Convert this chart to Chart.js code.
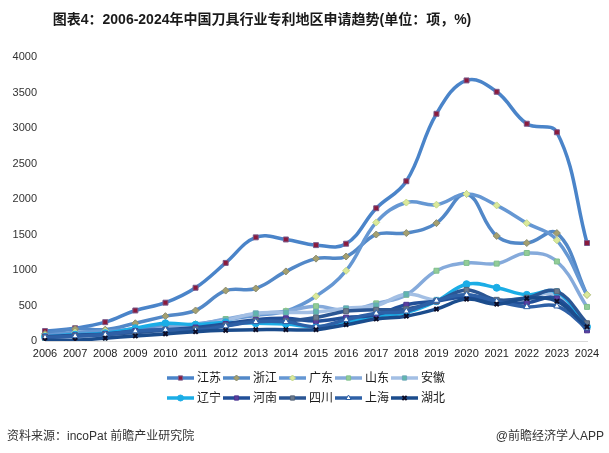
<!DOCTYPE html>
<html>
<head>
<meta charset="utf-8">
<script src="https://cdn.jsdelivr.net/npm/chart.js@4/dist/chart.umd.min.js"></script>
<style>
  html,body{margin:0;padding:0;background:#fff;}
  #wrap{width:609px;height:453px;position:relative;}
</style>
</head>
<body>
<div id="wrap"><canvas id="c" width="609" height="453"></canvas></div>
<script>
const years = ['2006','2007','2008','2009','2010','2011','2012','2013','2014','2015','2016','2017','2018','2019','2020','2021','2022','2023','2024'];
const yTicks = [0, 500, 1000, 1500, 2000, 2500, 3000, 3500, 4000];

const jiangsu   = [140,180,265,430,540,750,1100,1460,1430,1350,1370,1870,2250,3200,3670,3510,3060,2940,1380];
const zhejiang  = [100,170,160,250,350,430,710,740,980,1160,1190,1500,1520,1660,2070,1480,1380,1520,650];
const guangdong = [80,120,140,170,210,240,300,360,420,630,990,1670,1950,1920,2070,1910,1660,1420,650];
const shandong  = [20,30,60,100,190,230,310,380,420,490,430,530,650,990,1100,1090,1240,1120,480];
const anhui     = [20,20,50,90,150,200,290,390,400,410,460,500,660,580,650,560,610,650,240];
const liaoning  = [60,90,110,180,250,230,260,250,240,200,260,350,400,560,800,750,650,690,200];
const henan     = [60,80,100,140,160,190,240,300,320,280,330,370,510,560,620,540,540,600,150];
const sichuan   = [50,70,90,120,150,170,220,280,280,330,420,440,450,560,720,580,610,700,250];
const shanghai  = [50,70,90,140,160,150,210,270,270,200,300,390,420,570,650,560,480,490,180];
const hubei     = [10,10,40,70,100,130,150,160,160,160,230,310,350,450,590,520,600,560,200];

const seriesNames = ['江苏','浙江','广东','山东','安徽','辽宁','河南','四川','上海','湖北'];
const seriesData  = [jiangsu, zhejiang, guangdong, shandong, anhui, liaoning, henan, sichuan, shanghai, hubei];
const lineColors  = ['#4a84c9','#5288c8','#6597d3','#85aadb','#a3bfe4','#1badE6','#214f98','#2b5694','#2e60a6','#1b4c8c'];
const markerFill  = ['#8b1a3c','#a4a070','#dbe99a','#93cc97','#5fb7ac','#1badE6','#5a3f9e','#6b7a8d','#ffffff','#0d0d26'];
const markerLine  = ['#7a5a8a','#8c8c70','#c6d98a','#7fbf8c','#6aa7b8','#1badE6','#4a3590','#566478','#2e60a6','#0d0d26'];
const markerStyle = ['rect','rectRot','rectRot','rect','rect','circle','rect','rect','triangle','crossRot'];

const FONT = '"Liberation Sans", "Noto Sans CJK SC", sans-serif';

const datasets = seriesNames.map((name, i) => ({
  label: name,
  data: seriesData[i],
  borderColor: lineColors[i],
  borderWidth: 3.5,
  tension: 0.4,
  pointStyle: markerStyle[i],
  pointRadius: markerStyle[i] === 'crossRot' ? 3 : 3.5,
  pointBackgroundColor: markerFill[i],
  pointBorderColor: markerLine[i],
  pointBorderWidth: markerStyle[i] === 'crossRot' ? 2 : 1,
  order: 10 - i
}));

// title, legend and source line drawn straight on the canvas
const decor = {
  id: 'decor',
  afterDraw(chart){
    const ctx = chart.ctx;
    ctx.save();
    ctx.fillStyle = '#1a1a1a';
    ctx.font = 'bold 14px ' + FONT;
    ctx.textAlign = 'center';
    ctx.textBaseline = 'middle';
    ctx.fillText('图表4：2006-2024年中国刀具行业专利地区申请趋势(单位：项，%)', 262, 20);

    // legend, two rows of five
    ctx.font = '12px ' + FONT;
    ctx.textAlign = 'left';
    chart.data.datasets.forEach((ds, i) => {
      const x0 = 167 + (i % 5) * 56;
      const y = 378 + Math.floor(i / 5) * 20;
      ctx.strokeStyle = ds.borderColor;
      ctx.lineWidth = 3.5;
      ctx.beginPath();
      ctx.moveTo(x0, y);
      ctx.lineTo(x0 + 27, y);
      ctx.stroke();
      ctx.fillStyle = ds.pointBackgroundColor;
      ctx.strokeStyle = ds.pointBorderColor;
      ctx.lineWidth = ds.pointBorderWidth;
      Chart.helpers.drawPoint(ctx, {pointStyle: ds.pointStyle, radius: 3, rotation: 0, borderWidth: ds.pointBorderWidth}, x0 + 13.5, y);
      ctx.fillStyle = '#1a1a1a';
      ctx.fillText(ds.label, x0 + 30, y + 1);
    });

    ctx.font = '12px ' + FONT;
    ctx.fillStyle = '#333';
    ctx.fillText('资料来源：incoPat 前瞻产业研究院', 7, 437);
    ctx.textAlign = 'right';
    ctx.fillText('@前瞻经济学人APP', 604, 437);
    ctx.restore();
  }
};

new Chart(document.getElementById('c'), {
  type: 'line',
  data: { labels: years, datasets },
  options: {
    responsive: false,
    animation: false,
    layout: { padding: { top: 57, right: 22, bottom: 88, left: 0 } },
    plugins: { legend: { display: false }, tooltip: { enabled: false } },
    scales: {
      x: {
        grid: { display: false, drawTicks: false },
        border: { display: true, color: '#d9d9d9', width: 1 },
        ticks: { color: '#222', font: { size: 11, family: FONT }, padding: 6, maxRotation: 0, autoSkip: false },
        afterFit(s){ s.height = 24; }
      },
      y: {
        min: 0, max: 4000,
        grid: { display: false, drawTicks: false },
        border: { display: false },
        afterBuildTicks(s){ s.ticks = yTicks.map(v => ({ value: v })); },
        ticks: { color: '#333', font: { size: 11, family: FONT }, padding: 8, callback: v => String(v) },
        afterFit(s){ s.width = 45; }
      }
    }
  },
  plugins: [decor]
});
</script>
</body>
</html>
